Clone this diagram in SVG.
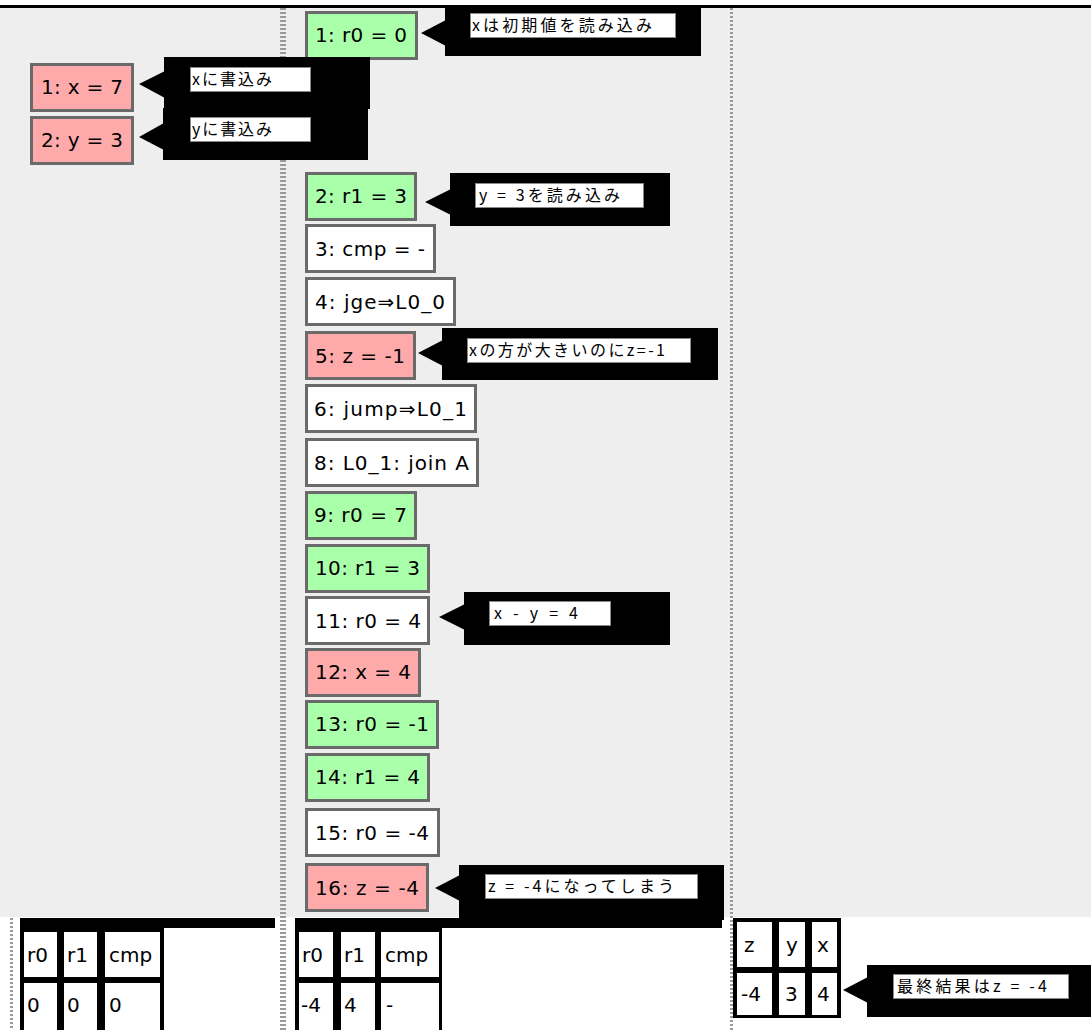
<svg xmlns="http://www.w3.org/2000/svg" width="1091" height="1030" viewBox="0 0 1091 1030">
<style>
.bg{fill:#eeeeee}
.nb{stroke:#6a6a6a;stroke-width:3}
.g{fill:#aaffaa}
.p{fill:#ffaaaa}
.w{fill:#ffffff}
.t{font-family:"DejaVu Sans",Verdana,sans-serif;font-size:20px;fill:#000}
.blk{fill:#000}
.lb{fill:#fff;stroke:#888;stroke-width:1}
.j{font-family:"Noto Sans CJK JP",sans-serif;font-size:16px;fill:#000}
.dot{stroke:#9a9a9a;stroke-dasharray:2 2;fill:none}
.cell{fill:#fff}
</style>
<rect x="0" y="0" width="1091" height="1030" fill="#fff"/>
<rect class="bg" x="0" y="8" width="1091" height="909"/>
<rect class="blk" x="0" y="5" width="1091" height="3"/>
<g id="separators">
<line class="dot" x1="283" y1="8" x2="283" y2="1030" stroke-width="6"/>
<line class="dot" x1="731.5" y1="8" x2="731.5" y2="1030" stroke-width="3"/>
<line class="dot" x1="11.5" y1="918" x2="11.5" y2="1030" stroke-width="3"/>
</g>
<g id="left-thread">
<g id="L1"><rect class="nb p" x="31.5" y="64.5" width="101" height="46"/><text class="t" x="41" y="94" textLength="82" lengthAdjust="spacing">1: x = 7</text></g>
<g id="L2"><rect class="nb p" x="31.5" y="117.5" width="101" height="46"/><text class="t" x="41" y="147" textLength="82" lengthAdjust="spacing">2: y = 3</text></g>
</g>
<g id="mid-thread">
<g id="M1"><rect class="nb g" x="306.5" y="12.5" width="110" height="46"/><text class="t" x="315" y="42" textLength="92" lengthAdjust="spacing">1: r0 = 0</text></g>
<g id="M2"><rect class="nb g" x="306.5" y="173.5" width="109" height="46"/><text class="t" x="315" y="203" textLength="92" lengthAdjust="spacing">2: r1 = 3</text></g>
<g id="M3"><rect class="nb w" x="306.5" y="225.5" width="128" height="46"/><text class="t" x="315" y="256" textLength="110" lengthAdjust="spacing">3: cmp = -</text></g>
<g id="M4"><rect class="nb w" x="306.5" y="278.5" width="148" height="46"/><text class="t" x="315" y="309" textLength="130" lengthAdjust="spacing">4: jge⇒L0_0</text></g>
<g id="M5"><rect class="nb p" x="306.5" y="332.5" width="108" height="46"/><text class="t" x="315" y="363" textLength="90" lengthAdjust="spacing">5: z = -1</text></g>
<g id="M6"><rect class="nb w" x="306.5" y="385.5" width="169" height="46"/><text class="t" x="314" y="416" textLength="153" lengthAdjust="spacing">6: jump⇒L0_1</text></g>
<g id="M8"><rect class="nb w" x="306.5" y="439.5" width="171" height="46"/><text class="t" x="314" y="470" textLength="155" lengthAdjust="spacing">8: L0_1: join A</text></g>
<g id="M9"><rect class="nb g" x="306.5" y="492.5" width="109" height="46"/><text class="t" x="314" y="522" textLength="93" lengthAdjust="spacing">9: r0 = 7</text></g>
<g id="M10"><rect class="nb g" x="306.5" y="545.5" width="122" height="46"/><text class="t" x="315" y="575" textLength="105" lengthAdjust="spacing">10: r1 = 3</text></g>
<g id="M11"><rect class="nb w" x="306.5" y="597.5" width="122" height="46"/><text class="t" x="315" y="628" textLength="106" lengthAdjust="spacing">11: r0 = 4</text></g>
<g id="M12"><rect class="nb p" x="306.5" y="649.5" width="113" height="46"/><text class="t" x="315" y="679" textLength="96" lengthAdjust="spacing">12: x = 4</text></g>
<g id="M13"><rect class="nb g" x="306.5" y="701.5" width="131" height="46"/><text class="t" x="315" y="731" textLength="114" lengthAdjust="spacing">13: r0 = -1</text></g>
<g id="M14"><rect class="nb g" x="306.5" y="754.5" width="122" height="46"/><text class="t" x="315" y="784" textLength="105" lengthAdjust="spacing">14: r1 = 4</text></g>
<g id="M15"><rect class="nb w" x="306.5" y="809.5" width="132" height="46"/><text class="t" x="315" y="840" textLength="114" lengthAdjust="spacing">15: r0 = -4</text></g>
<g id="M16"><rect class="nb p" x="306.5" y="864.5" width="121" height="46"/><text class="t" x="315" y="895" textLength="104" lengthAdjust="spacing">16: z = -4</text></g>
</g>
<g id="bottom-tables">
<g id="T-left">
<rect class="blk" x="20" y="918" width="255" height="10"/>
<rect class="blk" x="20" y="918" width="144" height="112"/>
<rect class="cell" x="24" y="932" width="33" height="45"/><rect class="cell" x="64" y="932" width="33" height="45"/><rect class="cell" x="105" y="932" width="55" height="45"/>
<rect class="cell" x="24" y="983" width="33" height="47"/><rect class="cell" x="64" y="983" width="33" height="47"/><rect class="cell" x="105" y="983" width="55" height="47"/>
<text class="t" x="27" y="962">r0</text><text class="t" x="67" y="962">r1</text><text class="t" x="109" y="962">cmp</text>
<text class="t" x="27" y="1012">0</text><text class="t" x="67" y="1012">0</text><text class="t" x="109" y="1012">0</text>
</g>
<g id="T-mid">
<rect class="blk" x="295" y="918" width="427" height="10"/>
<rect class="blk" x="295" y="918" width="147" height="112"/>
<rect class="cell" x="299" y="932" width="34" height="45"/><rect class="cell" x="341" y="932" width="34" height="45"/><rect class="cell" x="381" y="932" width="58" height="45"/>
<rect class="cell" x="299" y="983" width="34" height="47"/><rect class="cell" x="341" y="983" width="34" height="47"/><rect class="cell" x="381" y="983" width="58" height="47"/>
<text class="t" x="302" y="962">r0</text><text class="t" x="344" y="962">r1</text><text class="t" x="385" y="962">cmp</text>
<text class="t" x="301" y="1012">-4</text><text class="t" x="344" y="1012">4</text><text class="t" x="386" y="1012">-</text>
</g>
<g id="T-mem">
<rect class="blk" x="733" y="918" width="108" height="100"/>
<rect class="cell" x="737" y="922" width="35" height="45"/><rect class="cell" x="779" y="922" width="26" height="45"/><rect class="cell" x="812" y="922" width="25" height="45"/>
<rect class="cell" x="737" y="973" width="35" height="42"/><rect class="cell" x="779" y="973" width="26" height="42"/><rect class="cell" x="812" y="973" width="25" height="42"/>
<text class="t" x="744" y="952">z</text><text class="t" x="786" y="952">y</text><text class="t" x="817" y="952">x</text>
<text class="t" x="741" y="1001">-4</text><text class="t" x="785" y="1001">3</text><text class="t" x="817" y="1001">4</text>
</g>
</g>
<g id="callouts">
<g id="C-M1"><rect class="blk" x="445" y="5" width="256" height="51"/><polygon class="blk" points="421,33 446,20 446,46"/><rect class="lb" x="470.5" y="13.5" width="205" height="24"/><text class="j" x="472" y="31" textLength="180" lengthAdjust="spacing">xは初期値を読み込み</text></g>
<g id="C-L1"><rect class="blk" x="164" y="57" width="206" height="52"/><polygon class="blk" points="139,84 165,71 165,98"/><rect class="lb" x="190.5" y="67.5" width="120" height="24"/><text class="j" x="192" y="85" textLength="80" lengthAdjust="spacing">xに書込み</text></g>
<g id="C-L2"><rect class="blk" x="163" y="108" width="205" height="52"/><polygon class="blk" points="139,137 164,123 164,150"/><rect class="lb" x="190.5" y="117.5" width="120" height="24"/><text class="j" x="192" y="135" textLength="80" lengthAdjust="spacing">yに書込み</text></g>
<g id="C-M2"><rect class="blk" x="450" y="173" width="220" height="53"/><polygon class="blk" points="425,202 451,189 451,215"/><rect class="lb" x="475.5" y="183.5" width="168" height="24"/><text class="j" x="479" y="201" textLength="141" lengthAdjust="spacing">y = 3を読み込み</text></g>
<g id="C-M5"><rect class="blk" x="442" y="328" width="276" height="52"/><polygon class="blk" points="418,353 443,340 443,366"/><rect class="lb" x="467.5" y="338.5" width="223" height="24"/><text class="j" x="469" y="356" textLength="196" lengthAdjust="spacing">xの方が大きいのにz=-1</text></g>
<g id="C-M11"><rect class="blk" x="464" y="592" width="206" height="53"/><polygon class="blk" points="439,617 465,604 465,630"/><rect class="lb" x="489.5" y="601.5" width="121" height="24"/><text class="j" x="494" y="619" textLength="84" lengthAdjust="spacing">x - y = 4</text></g>
<g id="C-M16"><rect class="blk" x="459" y="865" width="265" height="55"/><polygon class="blk" points="435,888 460,875 460,901"/><rect class="lb" x="485.5" y="874.5" width="212" height="24"/><text class="j" x="488" y="892" textLength="186" lengthAdjust="spacing">z = -4になってしまう</text></g>
<g id="C-mem"><rect class="blk" x="867" y="965" width="224" height="52"/><polygon class="blk" points="843,990 868,977 868,1003"/><rect class="lb" x="893.5" y="974.5" width="175" height="24"/><text class="j" x="897" y="992" textLength="150" lengthAdjust="spacing">最終結果はz = -4</text></g>
</g>
</svg>
